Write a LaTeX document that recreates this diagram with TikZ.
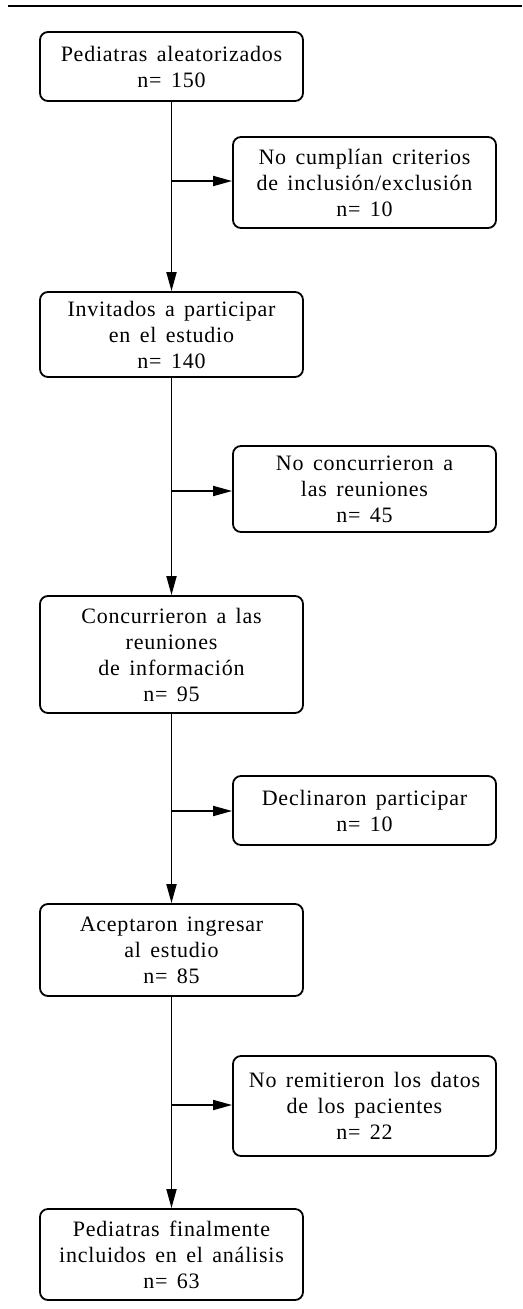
\documentclass[tikz,border=0pt]{standalone}
\usepackage{fontspec}
\setmainfont{Liberation Serif}[LetterSpace=3.5, WordSpace=1.5]
\usetikzlibrary{arrows.meta}
\begin{document}
\begin{tikzpicture}[x=1pt, y=-1pt,
  main/.style = {draw, rounded corners=8pt, line width=1.8pt, minimum width=263pt,
    align=center, inner sep=2pt, font=\fontsize{22}{26}\selectfont},
  flow/.style = {line width=1.8pt, -{Triangle[length=19pt, width=10pt]}}]
  \useasboundingbox (0,0) rectangle (522,1309);
  \draw[line width=2.4pt] (8,6) -- (522,6);

  \node[main, minimum height=69pt] (aleat) at (171.5,66.5) {Pediatras aleatorizados\\n= 150};
  \node[main, minimum height=91pt] (nocumpl) at (364.5,182.5) {No cumplían criterios\\de inclusión/exclusión\\n= 10};
  \node[main, minimum height=85pt] (invit) at (171.5,334.5) {Invitados a participar\\en el estudio\\n= 140};
  \node[main, minimum height=86pt] (noconc) at (364.5,489) {No concurrieron a\\las reuniones\\n= 45};
  \node[main, minimum height=117pt] (concur) at (171.5,654.5) {Concurrieron a las\\reuniones\\de información\\n= 95};
  \node[main, minimum height=69pt] (decl) at (364.5,810.5) {Declinaron participar\\n= 10};
  \node[main, minimum height=92pt] (acept) at (171.5,950) {Aceptaron ingresar\\al estudio\\n= 85};
  \node[main, minimum height=100pt] (noremit) at (364.5,1106) {No remitieron los datos\\de los pacientes\\n= 22};
  \node[main, minimum height=91pt] (incl) at (171.5,1254.5) {Pediatras finalmente\\incluidos en el análisis\\n= 63};

  \coordinate (c1) at (171.5,181);
  \coordinate (c2) at (171.5,491);
  \coordinate (c3) at (171.5,811);
  \coordinate (c4) at (171.5,1105);

  \draw[flow] (aleat) to (invit);
  \draw[flow] (invit) to (concur);
  \draw[flow] (concur) to (acept);
  \draw[flow] (acept) to (incl);
  \draw[flow] (c1) to (nocumpl.west |- c1);
  \draw[flow] (c2) to (noconc.west |- c2);
  \draw[flow] (c3) to (decl.west |- c3);
  \draw[flow] (c4) to (noremit.west |- c4);
\end{tikzpicture}
\end{document}
